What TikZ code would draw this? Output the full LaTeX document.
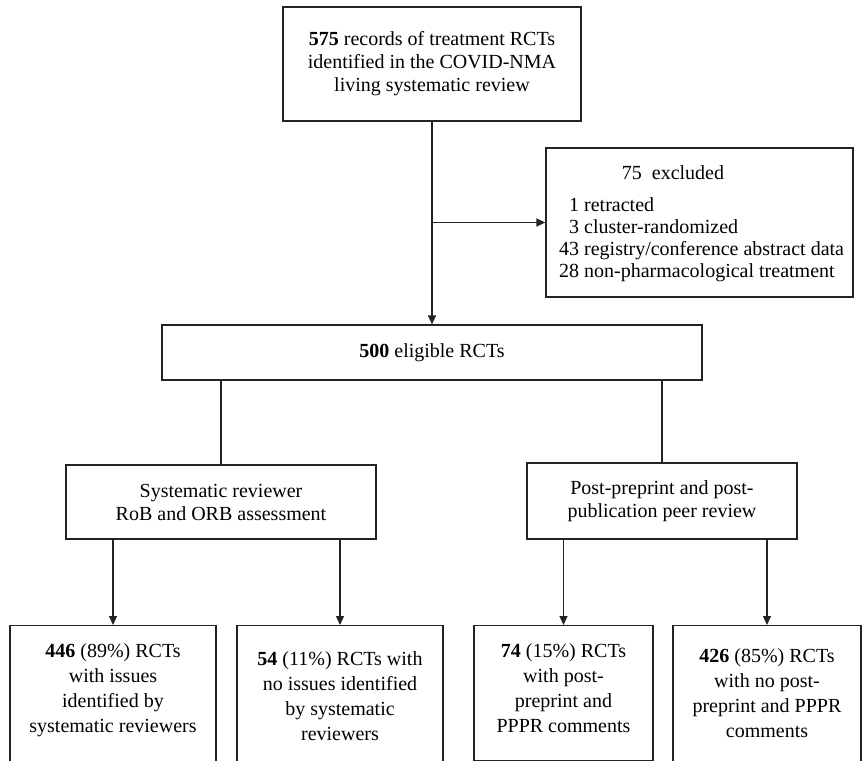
\documentclass[tikz,border=0pt]{standalone}
\usepackage{fontspec}
\setmainfont{Liberation Serif}
\usepackage{tikz}
\usetikzlibrary{arrows.meta,calc}
\definecolor{boxgray}{RGB}{35,35,35}

\begin{document}
\begin{tikzpicture}[x=1pt,y=-1pt,
  box/.style={draw=boxgray,line width=1.2pt,inner sep=0pt,align=center,font=\fontsize{20}{23}\selectfont},
  txt/.style={inner sep=0pt,font=\fontsize{20}{22}\selectfont},
  arr/.style={draw=boxgray,line width=1.2pt,-{Triangle[length=9pt,width=8pt]}},
  ln/.style={draw=boxgray,line width=1.2pt}]

\clip (0,0) rectangle (863,761);

% records found
\node[box,minimum width=298,minimum height=114] (rec) at (432,64) {\textbf{575} records of treatment RCTs\\identified in the COVID-NMA\\living systematic review};

% exclusions
\node[box,minimum width=307,minimum height=149] (excl) at (699.5,222.5) {};
\node[txt] (exclhead) at (673,173) {75~~excluded};
\node[txt,anchor=west] (excllist) at (559,240) {\begin{tabular}{@{}r@{ }l@{}}
1 & retracted\\
3 & cluster-randomized\\
43 & registry/conference abstract data\\
28 & non-pharmacological treatment
\end{tabular}};

% eligible
\node[box,minimum width=540,minimum height=55] (elig) at (432,352.5) {\textbf{500} eligible RCTs};

% two assessments
\node[box,minimum width=310,minimum height=74] (sysrev) at (221,502) {Systematic reviewer\\RoB and ORB assessment};
\node[box,minimum width=270,minimum height=76] (ppr) at (662,501) {Post-preprint and post-\\publication peer review};

% results
\node[box,anchor=north] (iss) at (113,625) {\parbox[t][170pt][t]{206pt}{\centering\fontsize{20}{25}\selectfont
  \rule{0pt}{32pt}\textbf{446} (89\%) RCTs\\with issues\\identified by\\systematic reviewers}};
\node[box,anchor=north] (noiss) at (340,625) {\parbox[t][170pt][t]{206pt}{\centering\fontsize{20}{25}\selectfont
  \rule{0pt}{40pt}\textbf{54} (11\%) RCTs with\\no issues identified\\by systematic\\reviewers}};
\node[box,anchor=north] (com) at (563.5,625) {\parbox[t][135pt][t]{179pt}{\centering\fontsize{20}{25}\selectfont
  \rule{0pt}{32pt}\textbf{74} (15\%) RCTs\\with post-\\preprint and\\PPPR comments}};
\node[box,anchor=north] (nocom) at (767,625) {\parbox[t][170pt][t]{188pt}{\centering\fontsize{20}{25}\selectfont
  \rule{0pt}{37pt}\textbf{426} (85\%) RCTs\\with no post-\\preprint and PPPR\\comments}};

% connectors
\coordinate (split) at (excl.west -| rec.south);
\draw[arr] (rec) -- (elig);
\draw[arr] (split) -- (excl.west);
\draw[ln] (elig.south -| sysrev.north) -- (sysrev.north);
\draw[ln] (elig.south -| ppr.north) -- (ppr.north);
\draw[arr] (sysrev.south -| iss.north) -- (iss.north);
\draw[arr] (sysrev.south -| noiss.north) -- (noiss.north);
\draw[arr] (ppr.south -| com.north) -- (com.north);
\draw[arr] (ppr.south -| nocom.north) -- (nocom.north);

\end{tikzpicture}
\end{document}
